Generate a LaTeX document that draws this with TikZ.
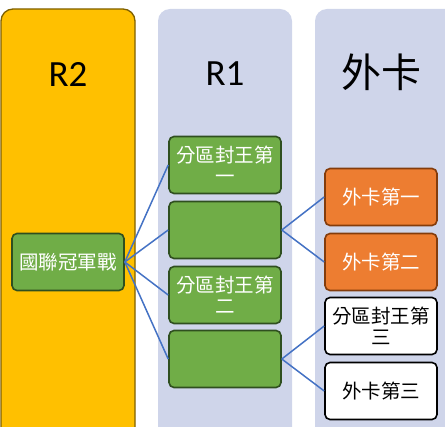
\documentclass[tikz,border=0pt]{standalone}
\usepackage{fontspec}
\setmainfont{Carlito}
\newfontfamily\cjk{Noto Sans CJK TC}
\usepackage{tikz}
\definecolor{gold}{HTML}{FFC000}
\definecolor{goldline}{HTML}{7F6000}
\definecolor{lane}{HTML}{CFD5EA}
\definecolor{grn}{HTML}{70AD47}
\definecolor{grnline}{HTML}{2F4F1F}
\definecolor{orng}{HTML}{ED7D31}
\definecolor{orngline}{HTML}{843C0C}
\definecolor{link}{HTML}{4472C4}
\tikzset{
  team/.style={draw, rounded corners=5pt, line width=1.6pt, minimum width=112pt, minimum height=57pt,
    align=center, inner sep=1pt, font=\cjk\fontsize{19.5}{21}\selectfont},
  green/.style={team, fill=grn, draw=grnline, text=white},
  orange/.style={team, fill=orng, draw=orngline, text=white},
  blank/.style={team, fill=white, draw=black, text=black},
  head/.style={font=\fontsize{37}{40}\selectfont},
  link/.style={draw=link, line width=1.5pt}
}

\begin{document}
\begin{tikzpicture}[x=1pt,y=-1pt]
\useasboundingbox (0,0) rectangle (445,427);
\clip (0,0) rectangle (445,427);
% lanes
\draw[fill=gold, draw=goldline, line width=1.3pt, rounded corners=12pt] (1,460) -- (1,9) -- (135,9) -- (135,460);
\fill[lane, rounded corners=12pt] (158,460) -- (158,9) -- (292,9) -- (292,460) -- cycle;
\fill[lane, rounded corners=12pt] (315,460) -- (315,9) -- (470,9) -- (470,460) -- cycle;
\node[head] (r2) at (68,74) {R2};
\node[head] (r1) at (225,74) {R1};
\node[font=\cjk\fontsize{40}{44}\selectfont] (wc) at (381,72) {外卡};

\node[green] (final) at (68,262) {國聯冠軍戰};
\node[green] (seed1) at (225,165) {分區封王第\\一};
\node[green] (game1) at (225,230) {};
\node[green] (seed2) at (225,295) {分區封王第\\二};
\node[green] (game2) at (225,359) {};

\node[orange] (wild1) at (381,197) {外卡第一};
\node[orange] (wild2) at (381,262) {外卡第二};
\node[blank] (seed3) at (381,326) {分區封王第\\三};
\node[blank] (wild3) at (381,391) {外卡第三};

\draw[link] (final.east) -- (seed1.west);
\draw[link] (final.east) -- (game1.west);
\draw[link] (final.east) -- (seed2.west);
\draw[link] (final.east) -- (game2.west);
\draw[link] (game1.east) -- (wild1.west);
\draw[link] (game1.east) -- (wild2.west);
\draw[link] (game2.east) -- (seed3.west);
\draw[link] (game2.east) -- (wild3.west);

\end{tikzpicture}
\end{document}
